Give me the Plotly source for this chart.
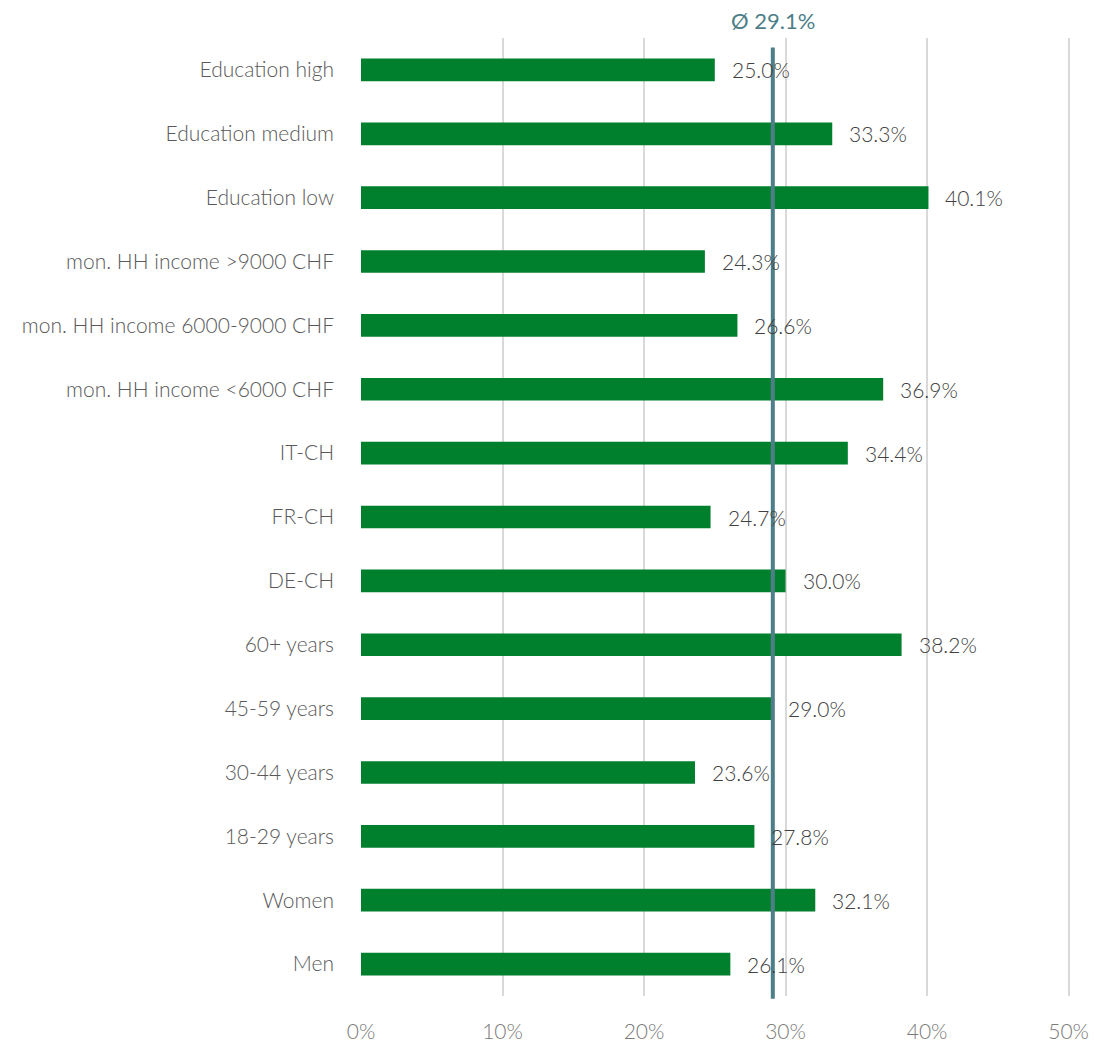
import plotly.graph_objects as go

# Share by group (%), listed bottom to top
groups = [
    "Men", "Women", "18-29 years", "30-44 years", "45-59 years", "60+ years",
    "DE-CH", "FR-CH", "IT-CH",
    "mon. HH income <6000 CHF", "mon. HH income 6000-9000 CHF", "mon. HH income >9000 CHF",
    "Education low", "Education medium", "Education high",
]
shares = [26.1, 32.1, 27.8, 23.6, 29.0, 38.2, 30.0, 24.7, 34.4, 36.9, 26.6, 24.3, 40.1, 33.3, 25.0]
average = 29.1
x_ticks = [0, 10, 20, 30, 40, 50]
x_tick_labels = ["0%", "10%", "20%", "30%", "40%", "50%"]

BAR_GREEN = "#007F2D"
AVG_TEAL = "#4E7F88"
FONT = "Lato"

fig = go.Figure()
fig.add_trace(go.Bar(
    x=shares, y=groups, orientation="h",
    marker=dict(color=BAR_GREEN, line=dict(width=0)),
    width=0.355, hoverinfo="x+y",
))

# Value labels to the right of each bar
for g, v in zip(groups, shares):
    fig.add_annotation(
        x=v, y=g, text=f"{v:.1f}%", showarrow=False,
        xanchor="left", yanchor="middle", xshift=15,
        font=dict(family=FONT, size=21, color="#404040", weight=300),
    )

# Average line and its label
fig.add_shape(
    type="line", xref="x", yref="paper", x0=average, x1=average, y0=-0.003, y1=0.99,
    line=dict(color=AVG_TEAL, width=4), layer="above",
)
fig.add_annotation(
    x=average, xref="x", y=1.0, yref="paper", yanchor="bottom", yshift=2,
    text=f"Ø {average:.1f}%", showarrow=False,
    font=dict(family=FONT, size=22, color=AVG_TEAL, weight=400),
)

fig.update_layout(
    width=1094, height=1046,
    margin=dict(l=360.5, r=24.1, t=38, b=50, autoexpand=False),
    paper_bgcolor="white", plot_bgcolor="white",
    showlegend=False,
    bargap=0.2,
    font=dict(family=FONT, weight=300),
)
fig.update_xaxes(
    range=[0, 50.1], tickvals=x_ticks, ticktext=x_tick_labels,
    showgrid=True, gridcolor="#D9D9D9", gridwidth=2,
    zeroline=False, showline=False, automargin=False,
    ticks="outside", ticklen=17, tickcolor="rgba(0,0,0,0)",
    tickfont=dict(family=FONT, size=21, color="#7A7A7A", weight=300),
)
fig.update_yaxes(
    categoryorder="array", categoryarray=groups,
    showgrid=False, zeroline=False, showline=False, automargin=False,
    ticks="", ticklabelstandoff=26,
    tickfont=dict(family=FONT, size=21, color="#595959", weight=300),
)

fig.write_html("out.html")
